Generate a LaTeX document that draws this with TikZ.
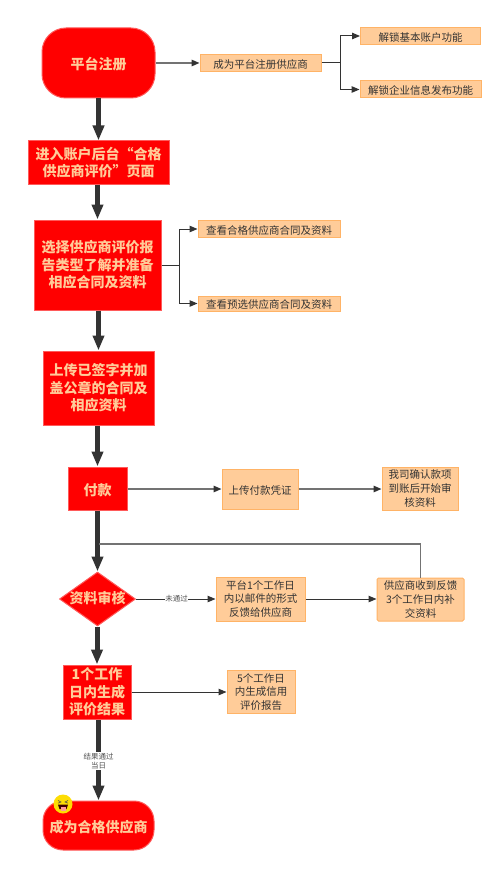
\documentclass[tikz,border=0pt]{standalone}
\usepackage{fontspec}
\setmainfont{Noto Sans CJK SC}
\usetikzlibrary{arrows.meta,shapes.geometric,calc}
\definecolor{peach}{HTML}{FFCC99}
\definecolor{peachedge}{HTML}{FFB366}
\definecolor{rededge}{HTML}{FF5A5A}
\definecolor{ink}{HTML}{333333}
\tikzset{
  lowered/.style={execute at begin node={\rule{0pt}{1.1em}}},
  redbase/.style={fill=red,draw=rededge,line width=1pt,text=peach,align=center,inner sep=0pt,
    font=\fontsize{14}{17.6}\selectfont\bfseries},
  redbox/.style={redbase,lowered,minimum width=#1},
  orbox/.style={fill=peach,draw=peachedge,line width=1pt,text=ink,align=center,inner sep=0pt,lowered,
    font=\fontsize{10.5}{13.8}\selectfont,minimum width=#1},
  thick arrow/.style={draw=ink,line width=5pt,-{Triangle[length=15pt,width=11pt]}},
  thin arrow/.style={draw=ink,line width=1pt,-{Triangle[length=8pt,width=6.5pt]}},
  gray arrow/.style={draw=black!55,line width=1.4pt,-{Triangle[length=8pt,width=6.5pt,color=ink]}},
  small label/.style={fill=white,inner sep=0.5pt,text=ink!85,align=center,font=\fontsize{7.5}{9.5}\selectfont},
}
\begin{document}
\begin{tikzpicture}[x=1pt,y=-1pt]
\useasboundingbox (0,0) rectangle (500,869);
% main flow
\node[redbox=113pt,minimum height=70pt,rounded corners=24pt] (A) at (98.5,63) {平台注册};
\node[redbox=141pt,minimum height=43pt] (B) at (98.5,162.5) {进入账户后台“合格\\供应商评价”页面};
\node[redbox=127pt,minimum height=90pt] (C) at (97.5,265) {选择供应商评价报\\告类型了解并准备\\相应合同及资料};
\node[redbox=111pt,minimum height=74pt] (D) at (98.5,388) {上传已签字并加\\盖公章的合同及\\相应资料};
\node[redbox=59pt,minimum height=43pt] (E) at (97.5,488.5) {付款};
\node[redbase,diamond,aspect=1.4,minimum width=76pt,minimum height=54pt] (F) at (97.5,599) {\raisebox{-4.5pt}[0pt][0pt]{资料审核}};
\node[redbox=68pt,minimum height=54pt] (G) at (97,692) {1个工作\\日内生成\\评价结果};
\node[redbox=111pt,minimum height=49pt,rounded corners=20pt] (H) at (98.5,825.5) {成为合格供应商};
% side boxes
\node[orbox=121pt,minimum height=17pt] (b1) at (260.5,63) {成为平台注册供应商};
\node[orbox=120pt,minimum height=17pt] (u1) at (420.5,36) {解锁基本账户功能};
\node[orbox=121pt,minimum height=17pt] (u2) at (420.5,89.5) {解锁企业信息发布功能};
\node[orbox=142pt,minimum height=17pt] (c1) at (269,229) {查看合格供应商合同及资料};
\node[orbox=142pt,minimum height=15pt] (c2) at (269,303.5) {查看预选供应商合同及资料};
\node[orbox=76pt,minimum height=40pt] (e1) at (260,489) {上传付款凭证};
\node[orbox=76pt,minimum height=43pt] (e2) at (420,488.5) {我司确认款项\\到账后开始审\\核资料};
\node[orbox=89pt,minimum height=44pt] (f1) at (260.5,599) {平台1个工作日\\内以邮件的形式\\反馈给供应商};
\node[orbox=87pt,minimum height=43pt,rounded corners=1.5pt] (f2) at (420.5,599.5) {供应商收到反馈\\3个工作日内补\\交资料};
\node[orbox=68pt,minimum height=43pt] (g1) at (261,692) {5个工作日\\内生成信用\\评价报告};
% thick flow
\draw[thick arrow] (A.south) -- (A.south |- B.north);
\draw[thick arrow] (B.south -| C.north) -- (C.north);
\draw[thick arrow] (C.south -| D.north) -- (D.north);
\draw[thick arrow] (D.south -| E.north) -- (E.north);
\draw[thick arrow] (E.south) -- (F.north);
\draw[thick arrow] (F.south -| G.north) -- (G.north);
\draw[thick arrow] (G.south -| H.north) -- (H.north);
% thin connectors
\draw[gray arrow] (A.east) -- (b1.west);
\coordinate (bfork) at (340,63);
\draw[draw=ink,line width=1pt] (b1.east) -- (bfork);
\draw[thin arrow] (bfork) |- (u1.west);
\draw[thin arrow] (bfork) |- (u2.west);
\coordinate (cfork) at (179,265);
\draw[draw=ink,line width=1pt] (C.east) -- (cfork);
\draw[thin arrow] (cfork) |- (c1.west);
\draw[thin arrow] (cfork) |- (c2.west);
\draw[gray arrow] (E.east |- e1.west) -- (e1.west);
\draw[gray arrow] (e1.east) -- (e2.west |- e1.east);
\draw[thin arrow] (F.east) -- node[small label,pos=0.51] (lab1) {未通过} (f1.west);
\draw[thin arrow] (f1.east) -- (f2.west |- f1.east);
\coordinate (loop) at (99,544);
\draw[draw=black!55,line width=1.2pt] (f2.north) -- (f2.north |- loop) -- (loop);
\draw[thin arrow] (G.east) -- (g1.west);
\node[small label] (lab2) at (98.5,761) {结果通过\\当日};
% emoji
\begin{scope}[shift={(63,804)}]
  \fill[fill=yellow!80!orange] (0,0) circle (9.5);
  \draw[black!70,line width=0.6pt] (-5,-3.5) -- (-2,-2) -- (-5,-0.8) (5,-3.5) -- (2,-2) -- (5,-0.8);
  \fill[black!75!red] (-5,0.5) -- (5,0.5) -- (3.5,5) -- (-3.5,5) -- cycle;
  \fill[pink!80!red] (-2.5,2.5) rectangle (2.5,6.5);
\end{scope}
\end{tikzpicture}
\end{document}
